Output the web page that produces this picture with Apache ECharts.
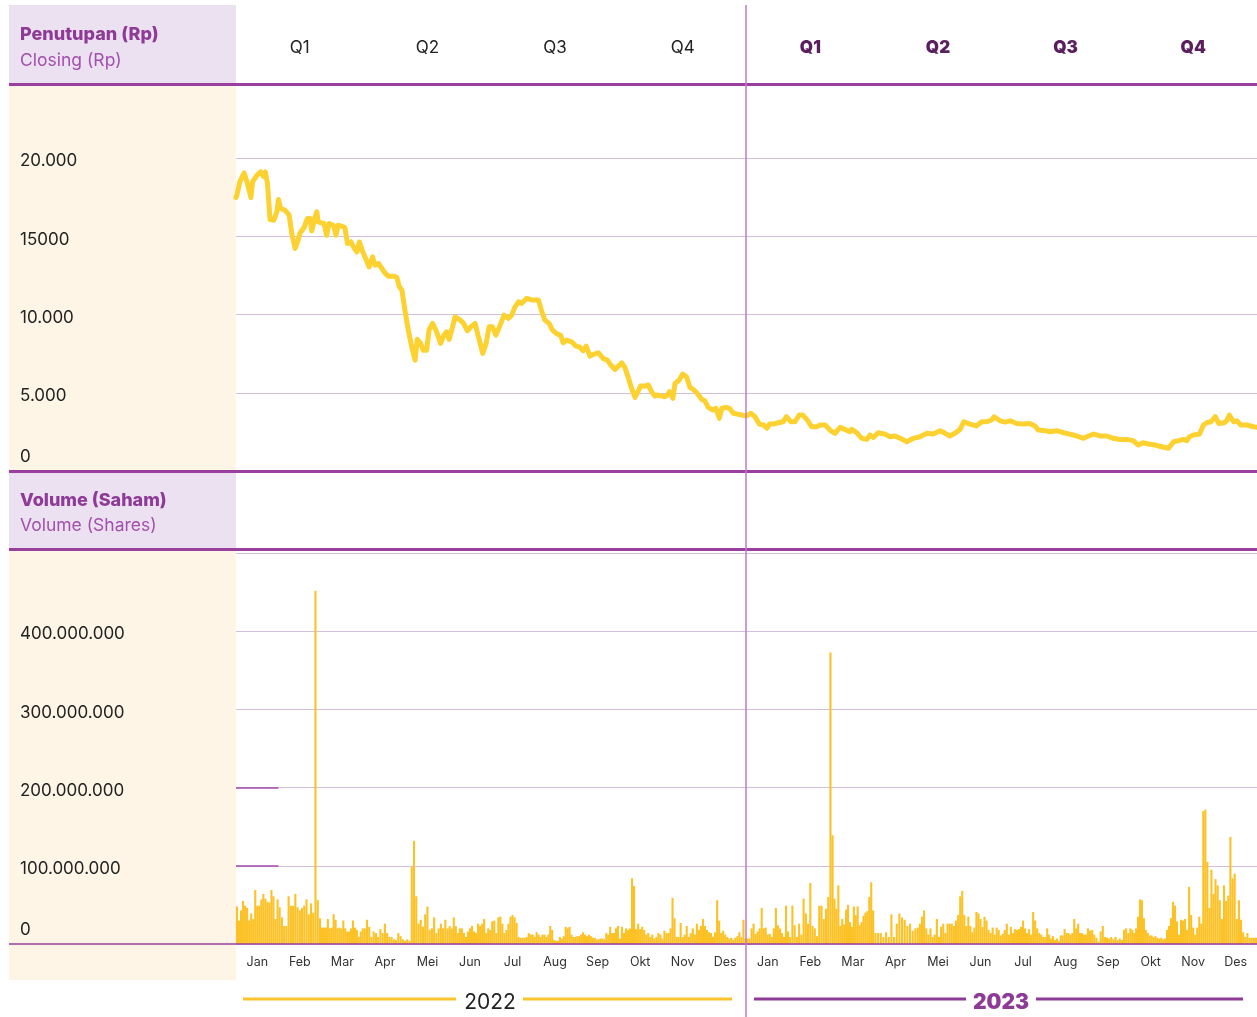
<!DOCTYPE html>
<html><head><meta charset="utf-8">
<script src="https://cdn.jsdelivr.net/npm/echarts@6/dist/echarts.min.js"></script>
<style>html,body{margin:0;padding:0;background:#fff}#c{width:1257px;height:1017px}</style>
</head><body><div id="c"></div>
<script>
// ---------- DATA ----------
const quarterLabels = ['Q1','Q2','Q3','Q4','Q1','Q2','Q3','Q4'];
const monthLabels = ['Jan','Feb','Mar','Apr','Mei','Jun','Jul','Aug','Sep','Okt','Nov','Des'];
const yearLabels = ['2022','2023'];
const priceTickLabels = {0:'0',5000:'5.000',10000:'10.000',15000:'15000',20000:'20.000'};
const volumeTickLabels = {0:'0',100:'100.000.000',200:'200.000.000',300:'300.000.000',400:'400.000.000'};

// closing price: [months since 1 Jan 2022, Rp]
const closing = [[0,17500],[0.02,17640],[0.09,18490],[0.19,19060],[0.27,18380],[0.35,17490],[0.39,18490],[0.49,18910],[0.58,19130],[0.64,18850],[0.69,19130],[0.74,18380],[0.80,16080],[0.89,16040],[0.96,16570],[1.00,17360],[1.05,16790],[1.15,16680],[1.25,16360],[1.31,15190],[1.39,14230],[1.46,14760],[1.50,15190],[1.60,15570],[1.68,16150],[1.74,16150],[1.78,15360],[1.86,16250],[1.90,16570],[1.93,15930],[2.01,15870],[2.07,15830],[2.13,15080],[2.19,15830],[2.29,15720],[2.35,15080],[2.40,15720],[2.48,15660],[2.56,15570],[2.62,14550],[2.70,14650],[2.77,14290],[2.84,14010],[2.90,14650],[2.98,14010],[3.07,13440],[3.13,13050],[3.21,13690],[3.27,13160],[3.35,13270],[3.43,12950],[3.50,12670],[3.58,12460],[3.70,12460],[3.78,12380],[3.84,11780],[3.90,11570],[3.97,10290],[4.05,9010],[4.13,7940],[4.21,7090],[4.26,8420],[4.34,8160],[4.40,7730],[4.48,7730],[4.54,9050],[4.62,9440],[4.70,9010],[4.81,8160],[4.89,8690],[4.95,8900],[5.01,8420],[5.09,9220],[5.15,9860],[5.27,9650],[5.34,9480],[5.44,8970],[5.52,9220],[5.62,9440],[5.70,8580],[5.80,7520],[5.88,8160],[5.95,9220],[6.03,9220],[6.11,8690],[6.21,9330],[6.30,9970],[6.40,9760],[6.48,9970],[6.56,10500],[6.64,10820],[6.72,10720],[6.83,11040],[6.91,10970],[6.99,10930],[7.11,10930],[7.19,10180],[7.26,9650],[7.36,9440],[7.44,9010],[7.55,8750],[7.63,8690],[7.69,8200],[7.77,8370],[7.89,8260],[7.99,7990],[8.07,7940],[8.16,7690],[8.23,7990],[8.32,7350],[8.42,7480],[8.52,7560],[8.63,7200],[8.73,7090],[8.81,6770],[8.91,6500],[8.99,6710],[9.07,6920],[9.14,6630],[9.22,5990],[9.30,5280],[9.38,4710],[9.43,4970],[9.51,5430],[9.61,5430],[9.69,5500],[9.77,5070],[9.85,4790],[9.90,4860],[10.01,4790],[10.08,4750],[10.14,4860],[10.19,5070],[10.27,4650],[10.32,5600],[10.42,5820],[10.50,6200],[10.59,6030],[10.67,5350],[10.75,5220],[10.84,4970],[10.95,4580],[11.02,4490],[11.10,4070],[11.21,3900],[11.28,4010],[11.36,3370],[11.42,4010],[11.52,4070],[11.60,4010],[11.69,3690],[11.78,3640],[11.89,3580],[11.99,3510],[12.10,3690],[12.20,3470],[12.30,3000],[12.40,2940],[12.48,2730],[12.54,3000],[12.63,3000],[12.75,3090],[12.86,3150],[12.94,3470],[13.04,3150],[13.14,3150],[13.24,3580],[13.32,3580],[13.43,3260],[13.53,2830],[13.65,2830],[13.73,2940],[13.85,2940],[13.96,2620],[14.08,2410],[14.20,2790],[14.31,2660],[14.43,2510],[14.47,2660],[14.59,2450],[14.71,2090],[14.83,2020],[14.90,2300],[14.98,2150],[15.10,2450],[15.26,2360],[15.37,2190],[15.49,2240],[15.61,2090],[15.77,1870],[15.92,2090],[16.08,2190],[16.24,2410],[16.39,2360],[16.55,2580],[16.67,2410],[16.78,2240],[16.90,2410],[17.02,2660],[17.11,3150],[17.25,3000],[17.40,2880],[17.53,3150],[17.65,3150],[17.76,3260],[17.82,3470],[17.96,3210],[18.08,3130],[18.20,3210],[18.35,3040],[18.51,3000],[18.66,3040],[18.78,2880],[18.86,2620],[19.02,2580],[19.13,2510],[19.29,2580],[19.45,2450],[19.60,2360],[19.76,2240],[19.92,2090],[20.04,2240],[20.16,2360],[20.31,2240],[20.47,2240],[20.62,2090],[20.78,2020],[20.94,2020],[21.09,1940],[21.21,1660],[21.32,1810],[21.45,1730],[21.60,1660],[21.76,1550],[21.92,1450],[22.04,1870],[22.16,1940],[22.26,2020],[22.35,1940],[22.41,2190],[22.51,2300],[22.65,2360],[22.74,2940],[22.82,3090],[22.92,3150],[23.02,3470],[23.10,3040],[23.23,3090],[23.29,3210],[23.35,3580],[23.45,3150],[23.53,3210],[23.62,2940],[23.76,2940],[23.92,2830],[24.0,2800]];

// daily volume in millions of shares, one list per month
const volume2022 = [
  [48,30,43,55,49,46,30,39,32,69,49,49,57,64,58,54,53,69,61,32,57],
  [47,34,23,23,61,49,49,64,47,43,46,49,57,38,52,40,452,56,33],
  [21,21,21,32,20,21,38,31,20,21,20,30,20,16,16,20,30,21,18,9,16,20],
  [20,31,22,9,16,14,9,19,14,26,14,9,9,6,5,14,10,6,4],
  [6,4,99,132,61,26,31,22,38,48,18,20,34,14,20,26,20,31,20],
  [23,20,34,23,14,20,20,14,9,16,20,23,16,14,26,23,26,32,14,20,18],
  [29,30,14,34,35,26,14,18,26,35,37,34,27,9,8,8,8,9,14,12,12],
  [9,15,12,9,12,12,9,12,23,18,5,4,4,9,7,10,22,20,22,12,9,9],
  [10,10,12,15,12,10,12,10,8,8,6,6,7,7,6,14,12,22,14,14,20,23],
  [7,22,14,20,18,20,84,74,19,26,19,22,18,12,14,9,12,7,9,14,12],
  [7,17,14,14,20,59,33,9,9,27,9,12,23,9,14,20,12,26,18,23,32],
  [23,18,15,14,9,15,56,30,14,17,12,9,7,8,5,8,10,15,9,31,7]
];
const volume2023 = [
  [7,7,20,26,13,16,20,46,20,21,12,13,9,20,46,24,20,14,9,49,16],
  [9,49,24,9,26,12,58,39,26,78,23,20,10,49,49,32,45,60,373],
  [139,58,45,75,23,32,25,44,50,28,22,48,37,48,24,28,36,40,42,60,79,43],
  [14,14,14,9,15,9,38,9,26,39,34,31,23,26,17,20],
  [21,26,35,43,20,12,20,9,12,32,9,22,26,14,26,26,26,23,30,37],
  [61,68,37,23,35,23,15,21,41,39,32,22,35,30,18,14,21,12,21,18,11],
  [13,18,26,12,22,14,19,18,19,22,30,20,14,19,12,41,30,20,14,12,9],
  [9,20,12,7,10,5,7,4,11,11,19,14,14,12,14,32,20,26,14,14,12,12],
  [20,17,18,12,8,3,16,23,9,8,7,9,6,9,5,7,5,18,20,14],
  [20,18,14,20,35,57,56,33,18,14,11,11,9,10,8,7,8,6,7,18,23,33],
  [54,49,29,12,31,30,32,18,73,37,21,12,21,35,26,170,172,105,46,95,64],
  [83,75,56,32,75,55,62,137,84,90,32,56,31,15,9,14,8,8,8,8]
];

// ---------- BUILD ----------
const volumeData = [];
[volume2022, volume2023].forEach((yr, yi) => yr.forEach((arr, mi) => arr.forEach((v, k) => {
  volumeData.push([yi * 12 + mi + (k + 0.5) / arr.length, v]);
})));

const PURPLE = '#9A3F9E', DARKP = '#5B1F60', LAV = '#EBE1F0', CREAM = '#FEF5E6';
const GRID = '#D4BEDF', YEL = '#FDD12F', BAR = '#FCC125';
const FONT = 'Inter, "Noto Sans", sans-serif';

const chart = echarts.init(document.getElementById('c'), null, {renderer: 'canvas'});
const L = 236, W = 1021;

function tickLabel(map) {
  return v => v === 0 ? '{z|0}' : (map[v] ? '{n|' + map[v] + '}' : '');
}
const tickRich = {
  z: {fontSize: 17, color: '#222', padding: [0, 0, 28, 0], fontFamily: FONT},
  n: {fontSize: 17, color: '#222', padding: [6, 0, 0, 0], fontFamily: FONT}
};

chart.setOption({
  animation: false,
  backgroundColor: '#fff',
  textStyle: {fontFamily: FONT},
  grid: [
    {left: L, width: W, top: 84, height: 387},
    {left: L, width: W, top: 550, height: 394}
  ],
  xAxis: [
    {type: 'value', gridIndex: 0, min: 0, max: 24, show: false},
    {type: 'value', gridIndex: 1, min: 0, max: 24, show: false},
    {type: 'category', gridIndex: 1, position: 'bottom', data: monthLabels.concat(monthLabels),
      boundaryGap: true, axisLine: {show: false}, axisTick: {show: false}, splitLine: {show: false},
      axisLabel: {margin: 12, fontSize: 12.5, color: '#333', fontFamily: FONT, interval: 0}},
    {type: 'category', gridIndex: 0, position: 'top', data: quarterLabels,
      boundaryGap: true, axisLine: {show: false}, axisTick: {show: false}, splitLine: {show: false},
      axisLabel: {margin: 28, interval: 0,
        formatter: (v, i) => (i < 4 ? '{a|' + v + '}' : '{b|' + v + '}'),
        rich: {a: {fontSize: 17, color: '#222', fontFamily: FONT},
               b: {fontSize: 17, color: DARKP, fontWeight: 900, fontFamily: FONT}}}}
  ],
  yAxis: [
    {type: 'value', gridIndex: 0, min: 0, max: 24750, interval: 5000,
      axisLine: {show: false}, axisTick: {show: false},
      splitLine: {lineStyle: {color: GRID, width: 1}},
      axisLabel: {align: 'left', margin: 216, fontFamily: FONT,
        formatter: tickLabel(priceTickLabels), rich: tickRich}},
    {type: 'value', gridIndex: 1, min: 0, max: 504, interval: 100,
      axisLine: {show: false}, axisTick: {show: false},
      splitLine: {lineStyle: {color: GRID, width: 1}},
      axisLabel: {align: 'left', margin: 216, fontFamily: FONT,
        formatter: tickLabel(volumeTickLabels), rich: tickRich}}
  ],
  series: [
    {type: 'line', xAxisIndex: 0, yAxisIndex: 0, data: closing, showSymbol: false, z: 5,
      lineStyle: {color: YEL, width: 5, cap: 'round', join: 'round'}},
    {type: 'bar', xAxisIndex: 1, yAxisIndex: 1, data: volumeData, barWidth: 2.1, z: 3,
      itemStyle: {color: BAR},
      markLine: {silent: true, symbol: 'none', label: {show: false},
        lineStyle: {color: '#A24AAE', width: 1.5, type: 'solid'},
        data: [[{coord: [0, 100]}, {coord: [1, 100]}], [{coord: [0, 200]}, {coord: [1, 200]}]]}}
  ],
  graphic: [
    {type: 'rect', shape: {x: 9, y: 5, width: 227, height: 79}, style: {fill: LAV}, z: -10},
    {type: 'rect', shape: {x: 9, y: 86, width: 227, height: 384}, style: {fill: CREAM}, z: -10},
    {type: 'rect', shape: {x: 9, y: 473, width: 227, height: 76}, style: {fill: LAV}, z: -10},
    {type: 'rect', shape: {x: 9, y: 551, width: 227, height: 429}, style: {fill: CREAM}, z: -10},
    {type: 'rect', shape: {x: 9, y: 83, width: 1248, height: 3}, style: {fill: PURPLE}, z: 50},
    {type: 'rect', shape: {x: 9, y: 470, width: 1248, height: 3}, style: {fill: PURPLE}, z: 50},
    {type: 'rect', shape: {x: 9, y: 548, width: 1248, height: 3}, style: {fill: PURPLE}, z: 50},
    {type: 'line', shape: {x1: 9, y1: 944, x2: 1257, y2: 944}, style: {stroke: PURPLE, lineWidth: 1.5}, z: 50},
    {type: 'line', shape: {x1: 746, y1: 5, x2: 746, y2: 1017}, style: {stroke: '#BC7BC8', lineWidth: 1.5}, z: 60},
    {type: 'text', x: 20, y: 35, style: {text: 'Penutupan (Rp)', font: '800 18px ' + FONT, fill: '#8E3A97', textVerticalAlign: 'middle'}, z: 60},
    {type: 'text', x: 20, y: 61, style: {text: 'Closing (Rp)', font: '17.5px ' + FONT, fill: '#A24FAD', textVerticalAlign: 'middle'}, z: 60},
    {type: 'text', x: 20, y: 501, style: {text: 'Volume (Saham)', font: '800 18px ' + FONT, fill: '#8E3A97', textVerticalAlign: 'middle'}, z: 60},
    {type: 'text', x: 20, y: 526, style: {text: 'Volume (Shares)', font: '17.5px ' + FONT, fill: '#A24FAD', textVerticalAlign: 'middle'}, z: 60},
    {type: 'line', shape: {x1: 243, y1: 999, x2: 456, y2: 999}, style: {stroke: '#FCC42C', lineWidth: 3}, z: 60},
    {type: 'line', shape: {x1: 523, y1: 999, x2: 732, y2: 999}, style: {stroke: '#FCC42C', lineWidth: 3}, z: 60},
    {type: 'text', x: 490, y: 1003, style: {text: yearLabels[0], font: '21px ' + FONT, fill: '#222', textAlign: 'center', textVerticalAlign: 'middle'}, z: 60},
    {type: 'line', shape: {x1: 754, y1: 999, x2: 966, y2: 999}, style: {stroke: '#8E3A97', lineWidth: 3}, z: 60},
    {type: 'line', shape: {x1: 1036, y1: 999, x2: 1243, y2: 999}, style: {stroke: '#8E3A97', lineWidth: 3}, z: 60},
    {type: 'text', x: 1001, y: 1003, style: {text: yearLabels[1], font: '900 21px ' + FONT, fill: '#8E3A97', textAlign: 'center', textVerticalAlign: 'middle'}, z: 60}
  ]
});
</script></body></html>
